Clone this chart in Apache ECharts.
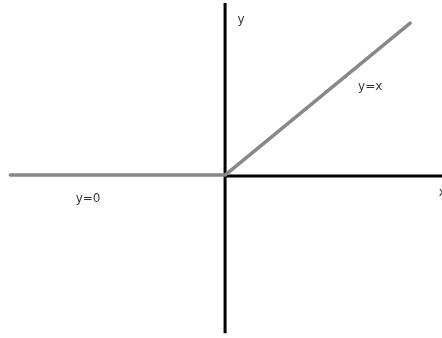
<!DOCTYPE html>
<html>
<head>
    <meta charset="UTF-8">
    <title>y=0 / y=x</title>
    <style>
        html, body {
            margin: 0;
            padding: 0;
            width: 100%;
            height: 100%;
            overflow: hidden;
            background: #fff;
        }
        #main {
            width: 442px;
            height: 338px;
        }
    </style>
    <script src="https://cdn.jsdelivr.net/npm/echarts@6/dist/echarts.min.js"></script>
</head>
<body>
    <div id="main"></div>
    <script>
        // piecewise curve: y=0 on the left, y=x on the right
        const curveLeft = [[-5.8, 0], [0, 0]];
        const curveRight = [[0, 0], [5, 5]];
        // hand drawn axes
        const axisVertical = [[0, -5.2], [0, 5.66]];
        const axisHorizontal = [[0, -0.03], [6, -0.03]];
        // text labels
        const labelNames = ['y', 'y=x', 'y=0', 'x'];
        const labelPoints = [[0.43, 5.1], [3.92, 2.89], [-3.7, -0.79], [5.87, -0.6]];

        const chart = echarts.init(document.getElementById('main'));

        const option = {
            animation: false,
            grid: { left: 0, right: 0, top: 0, bottom: 0 },
            xAxis: {
                type: 'value', min: -6.08, max: 5.86,
                show: false
            },
            yAxis: {
                type: 'value', min: -5.36, max: 5.76,
                show: false
            },
            series: [
                {
                    type: 'line', data: axisVertical, symbol: 'none',
                    lineStyle: { color: '#000', width: 3 }
                },
                {
                    type: 'line', data: axisHorizontal, symbol: 'none',
                    lineStyle: { color: '#000', width: 3 }
                },
                {
                    type: 'line', data: curveLeft.concat(curveRight.slice(1)), symbol: 'none',
                    lineStyle: { color: '#888', width: 3.5, cap: 'round', join: 'round' }
                },
                {
                    type: 'scatter', symbolSize: 0, clip: false,
                    data: labelPoints.map((p, i) => ({ value: p, name: labelNames[i] })),
                    label: {
                        show: true, position: 'inside',
                        formatter: p => p.name,
                        color: '#000',
                        fontFamily: 'DejaVu Sans',
                        fontSize: 12
                    }
                }
            ]
        };

        chart.setOption(option);
    </script>
</body>
</html>
